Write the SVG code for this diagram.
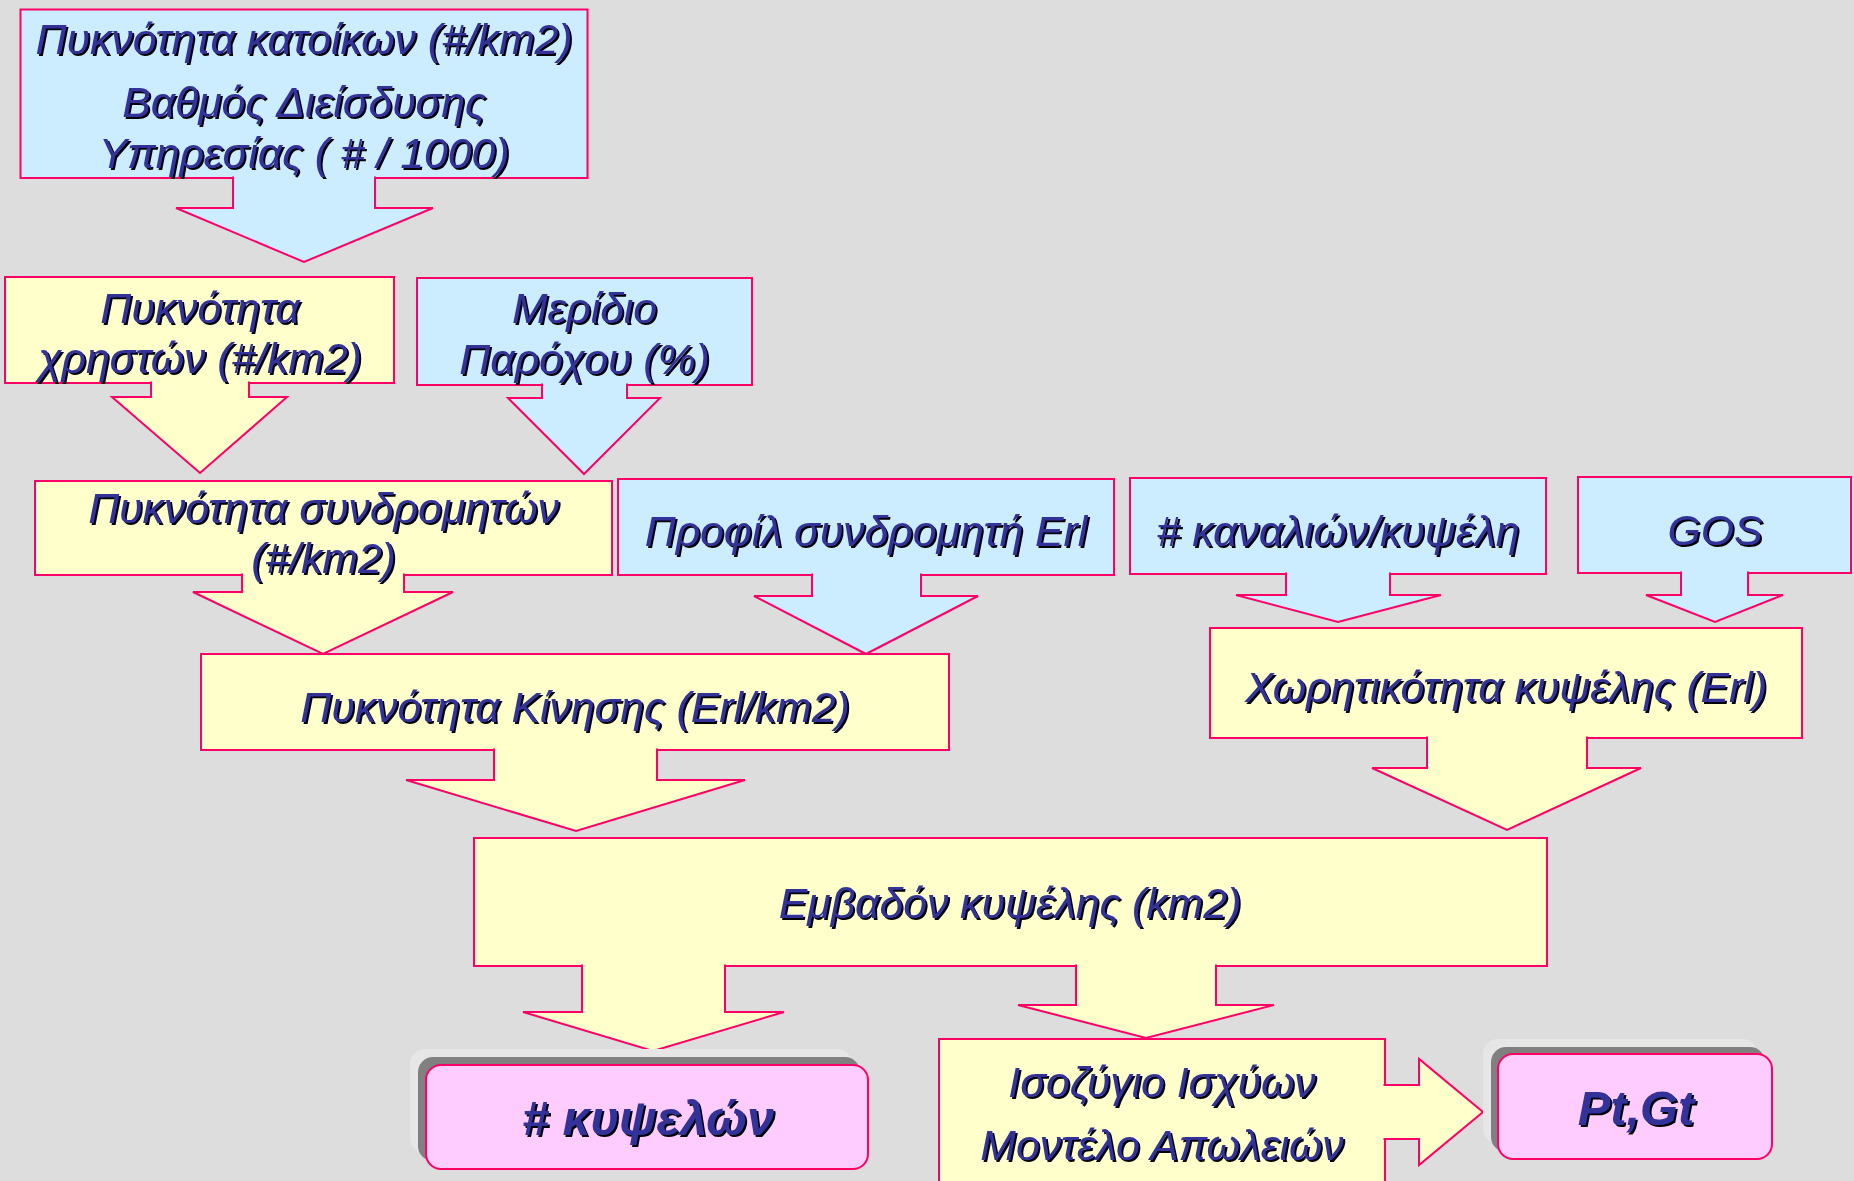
<svg xmlns="http://www.w3.org/2000/svg" width="1854" height="1181" viewBox="0 0 1854 1181">
<defs>
<filter id="sh" x="-5%" y="-20%" width="110%" height="140%">
<feDropShadow dx="2" dy="2" stdDeviation="0" flood-color="#000000" flood-opacity="1"/>
</filter>
<style>
.bg{fill:#DDDDDD}
.blue{fill:#CCECFF;stroke:#FF0066;stroke-width:2}
.yel{fill:#FFFFCC;stroke:#FF0066;stroke-width:2}
.pink{fill:#FFCCFF;stroke:#FF0066;stroke-width:2}
.sh1{fill:#808080}
.sh2{fill:#E6E6E6}
text{font-family:"Liberation Sans",Arial,"Noto Sans",sans-serif;font-style:italic;fill:#333399;font-size:42.7px;text-anchor:middle;filter:url(#sh)}
text.big{font-weight:bold;font-size:48.7px}
</style>
</defs>
<rect class="bg" x="0" y="0" width="1854" height="1181"/>

<g id="node-katoikoi">
<rect class="blue" x="20.5" y="9.5" width="567" height="168.5"/>
</g>
<g id="node-xrhstes">
<rect class="yel" x="5" y="277" width="389" height="106"/>
</g>
<g id="node-meridio">
<rect class="blue" x="417" y="278" width="335" height="107"/>
</g>
<g id="node-syndromhtes">
<rect class="yel" x="35" y="481" width="577" height="94"/>
</g>
<g id="node-profil">
<rect class="blue" x="618" y="479" width="496" height="96"/>
</g>
<g id="node-kanalia">
<rect class="blue" x="1130" y="478" width="416" height="96"/>
</g>
<g id="node-gos">
<rect class="blue" x="1578" y="477" width="273" height="96"/>
</g>
<g id="node-xwrhtikothta">
<rect class="yel" x="1210" y="628" width="592" height="110"/>
</g>
<g id="node-kinhsh">
<rect class="yel" x="201" y="654" width="748" height="96"/>
</g>
<g id="node-embadon">
<rect class="yel" x="474" y="838" width="1073" height="128"/>
</g>
<g id="node-isozygio">
<rect class="yel" x="939" y="1039" width="446" height="160"/>
</g>

<g id="connectors">
<path class="blue" d="M233,176.5 L233,208 L176,208 L304,262 L433,208 L375,208 L375,176.5"/>
<path class="yel" d="M151,381.5 L151,397 L112,397 L200,473 L287,397 L249,397 L249,381.5"/>
<path class="blue" d="M542,383.5 L542,398 L508,398 L584,474 L660,398 L627,398 L627,383.5"/>
<path class="yel" d="M242,573.5 L242,592 L193,592 L323,654 L453,592 L404,592 L404,573.5"/>
<path class="blue" d="M812,573.5 L812,596 L754,596 L866,654 L978,596 L921,596 L921,573.5"/>
<path class="blue" d="M1286,572.5 L1286,595 L1236,595 L1338,622 L1441,595 L1390,595 L1390,572.5"/>
<path class="blue" d="M1681,571.5 L1681,595 L1646,595 L1715,622 L1783,595 L1748,595 L1748,571.5"/>
<path class="yel" d="M1427,736.5 L1427,768 L1372,768 L1507,830 L1641,768 L1587,768 L1587,736.5"/>
<path class="yel" d="M494,748.5 L494,780 L406,780 L576,831 L745,780 L657,780 L657,748.5"/>
<path class="yel" d="M582,964.5 L582,1012 L523,1012 L653,1051 L784,1012 L725,1012 L725,964.5"/>
<path class="yel" d="M1076,964.5 L1076,1005 L1018,1005 L1146,1038 L1274,1005 L1216,1005 L1216,964.5"/>
<path class="yel" d="M1383.5,1085 L1419,1085 L1419,1059 L1483,1112 L1419,1165 L1419,1139 L1383.5,1139"/>
</g>

<g id="node-kypseles">
<rect class="sh2" x="410" y="1049" width="442" height="104" rx="15"/>
<rect class="sh1" x="418" y="1057" width="442" height="104" rx="15"/>
<rect class="pink" x="426" y="1065" width="442" height="104" rx="15"/>
</g>
<g id="node-ptgt">
<rect class="sh2" x="1483" y="1039" width="274" height="105" rx="15"/>
<rect class="sh1" x="1491" y="1047" width="274" height="105" rx="15"/>
<rect class="pink" x="1498" y="1054" width="274" height="105" rx="15"/>
</g>

<g id="labels">
<text x="304" y="54">Πυκνότητα κατοίκων (#/km2)</text>
<text x="304" y="117">Βαθμός Διείσδυσης</text>
<text x="304" y="168">Υπηρεσίας ( # / 1000)</text>
<text x="200" y="323">Πυκνότητα</text>
<text x="200" y="373">χρηστών (#/km2)</text>
<text x="584.5" y="323">Μερίδιο</text>
<text x="584.5" y="374">Παρόχου (%)</text>
<text x="323.5" y="523">Πυκνότητα συνδρομητών</text>
<text x="323.5" y="573">(#/km2)</text>
<text x="866" y="546">Προφίλ συνδρομητή Erl</text>
<text x="1338" y="546"># καναλιών/κυψέλη</text>
<text x="1715" y="545">GOS</text>
<text x="1506" y="702">Χωρητικότητα κυψέλης (Erl)</text>
<text x="575" y="722">Πυκνότητα Κίνησης (Erl/km2)</text>
<text x="1010" y="918">Εμβαδόν κυψέλης (km2)</text>
<text x="1162" y="1097">Ισοζύγιο Ισχύων</text>
<text x="1162" y="1160">Μοντέλο Απωλειών</text>
<text class="big" x="648" y="1135"># κυψελών</text>
<text class="big" x="1636" y="1125">Pt,Gt</text>
</g>
</svg>
